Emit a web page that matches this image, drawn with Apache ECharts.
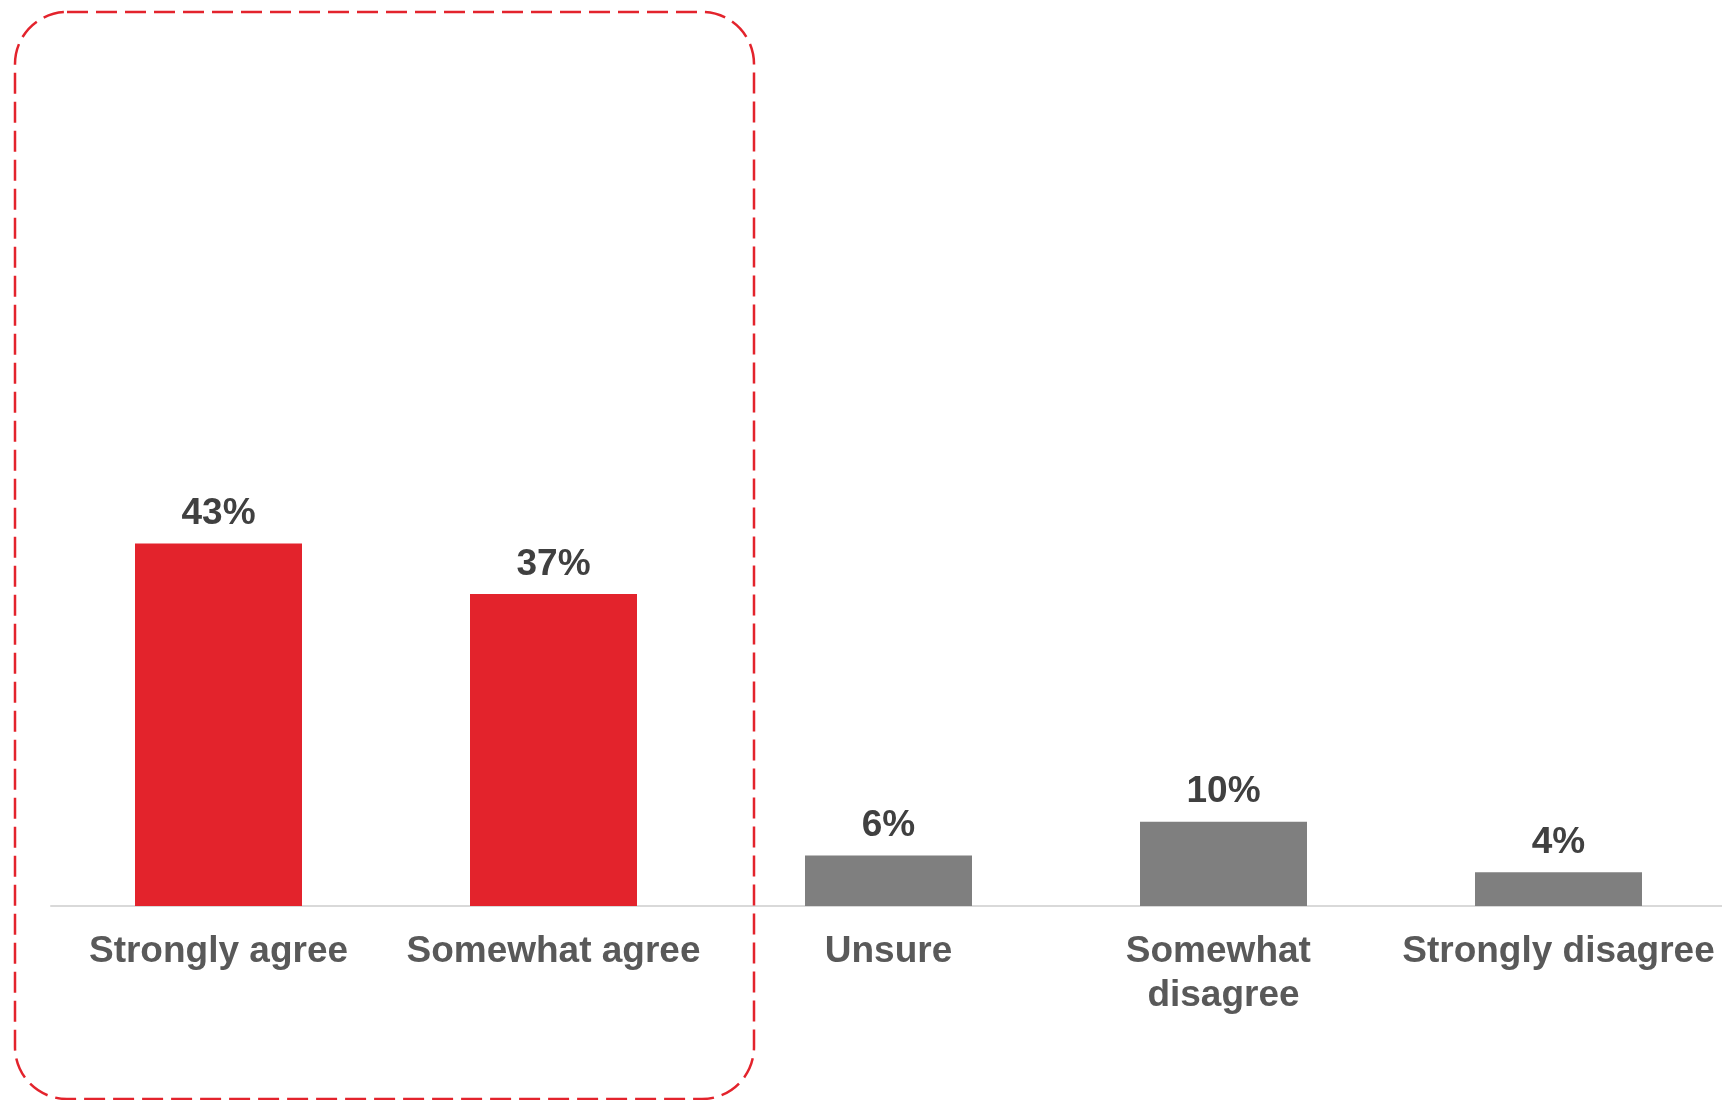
<!DOCTYPE html>
<html>
<head>
<meta charset="utf-8">
<title>Agreement survey</title>
<script src="https://cdn.jsdelivr.net/npm/echarts@6/dist/echarts.min.js"></script>
<style>
  html, body { margin: 0; padding: 0; background: #ffffff; }
  #chart { width: 1722px; height: 1100px; }
</style>
</head>
<body>
<div id="chart"></div>
<script>
// Response options and their shares (%)
const categories = ['Strongly agree', 'Somewhat agree', 'Unsure', 'Somewhat disagree', 'Strongly disagree'];
const shares = [43, 37, 6, 10, 4];
// Responses grouped inside the dashed frame
const agreeGroup = ['Strongly agree', 'Somewhat agree'];

const RED = '#E3232C';
const GREY = '#7F7F7F';

const chart = echarts.init(document.getElementById('chart'), null, { renderer: 'canvas' });

chart.setOption({
  backgroundColor: '#ffffff',
  animation: false,
  grid: {
    left: 51, width: 1675, top: 63, bottom: 194,
    containLabel: false,
    outerBoundsMode: 'none'
  },
  xAxis: {
    type: 'category',
    data: categories,
    axisTick: { show: false },
    axisLine: { show: true, lineStyle: { color: '#D9D9D9', width: 2 } },
    axisLabel: {
      interval: 0,
      margin: 24,
      width: 335,
      overflow: 'break',
      color: '#595959',
      fontFamily: 'Liberation Sans, Arial, sans-serif',
      fontWeight: 'bold',
      fontSize: 37,
      lineHeight: 44
    }
  },
  yAxis: {
    type: 'value',
    min: 0,
    max: 100,
    show: false,
    splitLine: { show: false }
  },
  series: [{
    type: 'bar',
    data: shares,
    barWidth: 167,
    itemStyle: {
      color: (p) => agreeGroup.includes(categories[p.dataIndex]) ? RED : GREY
    },
    label: {
      show: true,
      position: 'top',
      distance: 11,
      formatter: (p) => p.value + '%',
      color: '#404040',
      fontFamily: 'Liberation Sans, Arial, sans-serif',
      fontWeight: 'bold',
      fontSize: 37
    }
  }],
  graphic: [{
    type: 'rect',
    shape: { x: 15, y: 12, width: 739, height: 1087, r: 52 },
    style: {
      fill: 'none',
      stroke: RED,
      lineWidth: 2.5,
      lineDash: [21, 8]
    },
    z: 10
  }]
});
</script>
</body>
</html>
